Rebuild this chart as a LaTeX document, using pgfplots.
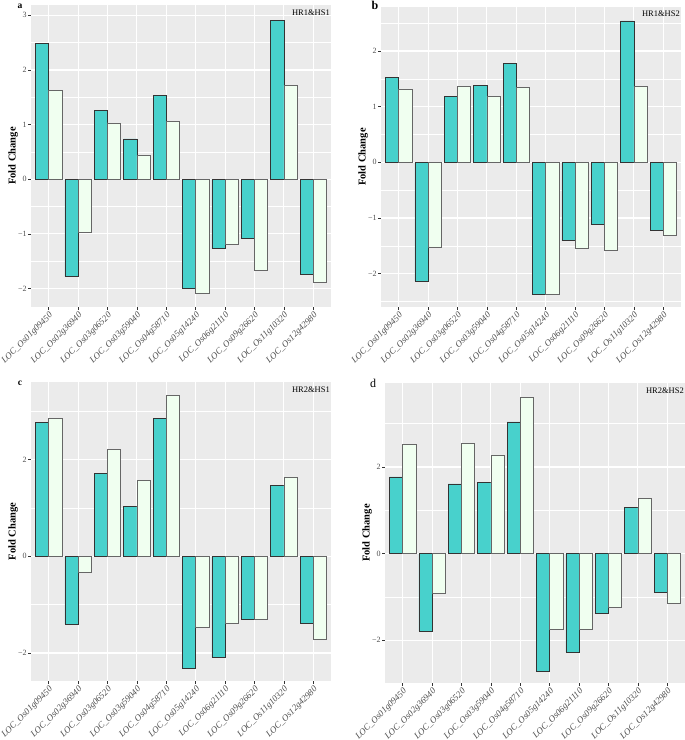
\documentclass[border=0pt]{standalone}
\usepackage{fontspec}
\setmainfont{Liberation Serif}
\usepackage{pgfplots}
\usepackage{pgfplotstable}
\pgfplotsset{compat=1.18}

\definecolor{barA}{HTML}{48D1CC}
\definecolor{barB}{HTML}{F0FFF0}
\definecolor{panelgrey}{HTML}{EBEBEB}
\definecolor{grey30}{HTML}{4D4D4D}
\definecolor{grey20}{HTML}{333333}

% columns: gene index, HR (teal), HS (light)
\pgfplotstableread{
x a b
1 2.49 1.62
2 -1.78 -0.98
3 1.26 1.03
4 0.74 0.43
5 1.53 1.06
6 -2.00 -2.09
7 -1.27 -1.19
8 -1.09 -1.67
9 2.91 1.72
10 -1.75 -1.89
}\panelA
\pgfplotstableread{
x a b
1 1.53 1.32
2 -2.13 -1.53
3 1.19 1.37
4 1.38 1.19
5 1.78 1.34
6 -2.37 -2.37
7 -1.41 -1.55
8 -1.12 -1.59
9 2.54 1.36
10 -1.22 -1.32
}\panelB
\pgfplotstableread{
x a b
1 2.76 2.84
2 -1.40 -0.34
3 1.71 2.21
4 1.03 1.56
5 2.84 3.33
6 -2.32 -1.46
7 -2.09 -1.38
8 -1.31 -1.31
9 1.47 1.64
10 -1.38 -1.72
}\panelC
\pgfplotstableread{
x a b
1 1.77 2.52
2 -1.79 -0.91
3 1.61 2.54
4 1.64 2.28
5 3.04 3.60
6 -2.71 -1.75
7 -2.27 -1.76
8 -1.37 -1.23
9 1.06 1.27
10 -0.90 -1.16
}\panelD

\pgfplotsset{
  panel/.style={
    scale only axis, width=300pt, height=300pt,
    anchor=north west,
    xmin=0.4, xmax=10.6,
    axis background/.style={fill=panelgrey},
    axis line style={draw=none},
    xtick={1,...,10},
    xticklabels={LOC\_Os01g09450,LOC\_Os02g36940,LOC\_Os03g06520,LOC\_Os03g59040,LOC\_Os04g58710,LOC\_Os05g14240,LOC\_Os06g21110,LOC\_Os09g26620,LOC\_Os11g10320,LOC\_Os12g42980},
    xticklabel style={rotate=45, anchor=north east, inner sep=1pt,
      font=\fontsize{9}{10}\selectfont\itshape, text=grey30},
    yticklabel style={font=\fontsize{8}{9}\selectfont, text=grey30, inner sep=1.5pt},
    tick align=outside, major tick length=2.75pt, minor tick length=0pt,
    tick style={color=grey20, line width=0.5pt},
    xtick pos=left, ytick pos=left,
    xmajorgrids, ymajorgrids, yminorgrids,
    major grid style={white, line width=1.1pt},
    minor grid style={white, line width=0.55pt},
    ylabel={\bfseries Fold Change},
    ylabel style={font=\fontsize{10.5}{12}\selectfont},
    ylabel shift=-5pt,
    clip=false,
  },
  barone/.style={ybar, bar width=0.45, bar shift=-0.225, fill=barA, draw=grey20, line width=0.6pt},
  bartwo/.style={ybar, bar width=0.45, bar shift=0.225, fill=barB, draw=black!60, line width=0.6pt},
}

\begin{document}
\begin{tikzpicture}
\useasboundingbox (0pt,0pt) rectangle (685pt,-740pt);

% a
\begin{axis}[panel, at={(31pt,-5pt)}, height=302pt,
  ymin=-2.34, ymax=3.19,
  ytick={-2,-1,0,1,2,3}, yticklabels={−2,−1,0,1,2,3},
  minor ytick={-1.5,-0.5,0.5,1.5,2.5}]
\addplot[barone] table[x=x, y=a] {\panelA};
\addplot[bartwo] table[x=x, y=b] {\panelA};
\node[anchor=north east, font=\fontsize{8.5}{9}\selectfont, inner sep=1pt] at (rel axis cs:1,1) [yshift=-4pt] {HR1\&HS1};
\end{axis}
\node[font=\fontsize{9.5}{10}\selectfont\bfseries] at (20pt,-6pt) {a};

% b
\begin{axis}[panel, at={(381pt,-7pt)}, height=300pt,
  ymin=-2.6, ymax=2.79,
  ytick={-2,-1,0,1,2}, yticklabels={−2,−1,0,1,2},
  minor ytick={-2.5,-1.5,-0.5,0.5,1.5,2.5}]
\addplot[barone] table[x=x, y=a] {\panelB};
\addplot[bartwo] table[x=x, y=b] {\panelB};
\node[anchor=north east, font=\fontsize{8.5}{9}\selectfont, inner sep=1pt] at (rel axis cs:1,1) [yshift=-3pt] {HR1\&HS2};
\end{axis}
\node[font=\fontsize{12}{12}\selectfont\bfseries] at (375pt,-5pt) {b};

% c
\begin{axis}[panel, at={(31pt,-382pt)}, height=299pt,
  ymin=-2.58, ymax=3.6,
  ytick={-2,0,2}, yticklabels={−2,0,2},
  minor ytick={-1,1,3}]
\addplot[barone] table[x=x, y=a] {\panelC};
\addplot[bartwo] table[x=x, y=b] {\panelC};
\node[anchor=north east, font=\fontsize{8.5}{9}\selectfont, inner sep=1pt] at (rel axis cs:1,1) [yshift=-4pt] {HR2\&HS1};
\end{axis}
\node[font=\fontsize{9.5}{10}\selectfont\bfseries] at (20pt,-383pt) {c};

% d
\begin{axis}[panel, at={(385pt,-383pt)}, height=300pt,
  ymin=-2.99, ymax=3.94,
  ytick={-2,0,2}, yticklabels={−2,0,2},
  minor ytick={-1,1,3}]
\addplot[barone] table[x=x, y=a] {\panelD};
\addplot[bartwo] table[x=x, y=b] {\panelD};
\node[anchor=north east, font=\fontsize{8.5}{9}\selectfont, inner sep=1pt] at (rel axis cs:1,1) [yshift=-4pt] {HR2\&HS2};
\end{axis}
\node[font=\fontsize{12}{12}\selectfont] at (373pt,-383pt) {d};
\end{tikzpicture}
\end{document}
